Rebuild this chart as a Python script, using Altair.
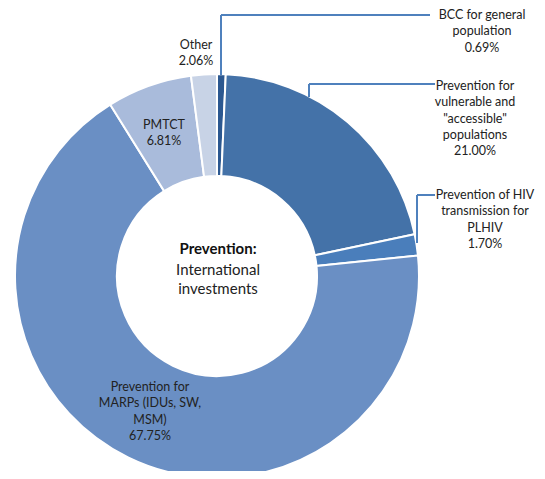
import altair as alt
import pandas as pd

# ---- data ----
categories = [
    "BCC for general population",
    "Prevention for vulnerable and \"accessible\" populations",
    "Prevention of HIV transmission for PLHIV",
    "Prevention for MARPs (IDUs, SW, MSM)",
    "PMTCT",
    "Other",
]
shares = [0.69, 21.00, 1.70, 67.75, 6.81, 2.06]
slice_colors = ["#2C5890", "#4472A8", "#4A7EBB", "#6A8FC4", "#A9BBDB", "#C8D3E6"]

label_lines = [
    ["BCC for general", "population", "0.69%"],
    ["Prevention for", "vulnerable and", "\"accessible\"", "populations", "21.00%"],
    ["Prevention of HIV", "transmission for", "PLHIV", "1.70%"],
    ["Prevention  for", "MARPs (IDUs, SW,", "MSM)", "67.75%"],
    ["PMTCT", "6.81%"],
    ["Other", "2.06%"],
]

# ---- annotation layout (chart pixel coords; page offset 8px) ----
CX, CY = 209, 268
label_x = [474, 467, 477, 142, 156, 188]
label_y = [7, 78, 187, 379, 117, 37]   # baseline-ish top line (middle)
leaders_x = [[213, 213, 422], [301, 301, 427], [409, 409, 427]]
leaders_y = [[67, 7, 7], [89, 76, 76], [235, 187, 187]]

df = pd.DataFrame({"cat": categories, "value": shares, "order": list(range(len(categories)))})

arc = alt.Chart(df).mark_arc(innerRadius=100, outerRadius=202, stroke="white", strokeWidth=2).encode(
    theta=alt.Theta("value:Q", stack=True),
    order=alt.Order("order:Q"),
    color=alt.Color("cat:N", scale=alt.Scale(domain=categories, range=slice_colors), legend=None),
    x=alt.value(CX),
    y=alt.value(CY),
)

# label text rows
rows = []
for i, lines in enumerate(label_lines):
    for j, t in enumerate(lines):
        rows.append({"x": label_x[i], "y": label_y[i] + j * 16.3, "t": t})
labels = alt.Chart(pd.DataFrame(rows)).mark_text(
    font="Lato", fontSize=12.5, color="#222222", align="center", baseline="middle"
).encode(x=alt.X("x:Q", scale=None), y=alt.Y("y:Q", scale=None), text="t:N")

# leader lines
seg = []
for k in range(len(leaders_x)):
    for p in range(len(leaders_x[k]) - 1):
        seg.append({"x": leaders_x[k][p], "y": leaders_y[k][p],
                    "x2": leaders_x[k][p + 1], "y2": leaders_y[k][p + 1]})
leaders = alt.Chart(pd.DataFrame(seg)).mark_rule(color="#4F81BD", strokeWidth=2).encode(
    x=alt.X("x:Q", scale=None), y=alt.Y("y:Q", scale=None),
    x2="x2:Q", y2="y2:Q",
)

# center title
center_rows = pd.DataFrame({
    "t": ["Prevention:", "International", "investments"],
    "y": [CY - 27, CY - 6, CY + 13],
    "w": ["bold", "normal", "normal"],
})
center_bold = alt.Chart(center_rows[center_rows.w == "bold"]).mark_text(
    font="Lato", fontSize=15, fontWeight="bold", color="#111111", baseline="middle"
).encode(x=alt.value(CX + 1), y=alt.Y("y:Q", scale=None), text="t:N")
center_norm = alt.Chart(center_rows[center_rows.w == "normal"]).mark_text(
    font="Lato", fontSize=15, color="#222222", baseline="middle"
).encode(x=alt.value(CX + 1), y=alt.Y("y:Q", scale=None), text="t:N")

chart = alt.layer(arc, leaders, labels, center_bold, center_norm).properties(
    width=529, height=463, autosize=alt.AutoSizeParams(type="none"), padding=0
).configure_view(stroke=None)

chart.save("out.html", embed_options={"renderer": "svg", "actions": False})
